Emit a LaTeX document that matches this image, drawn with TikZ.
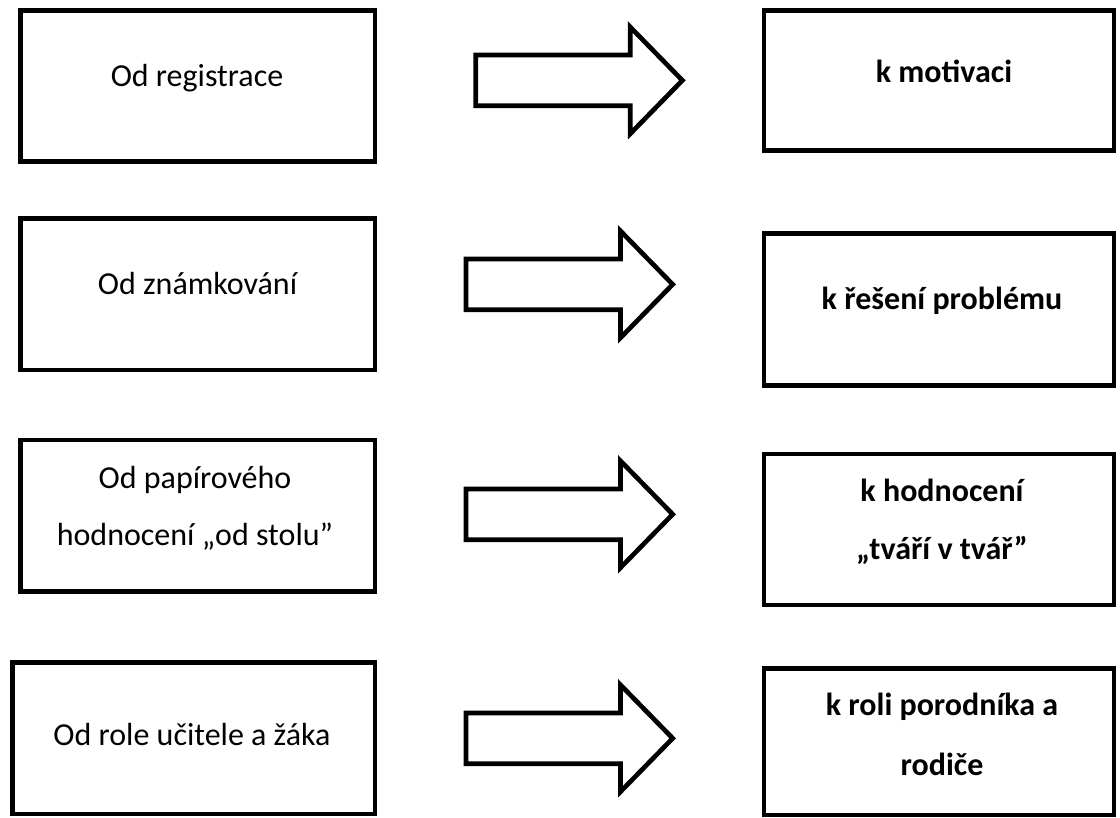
\documentclass[tikz,border=0pt]{standalone}
\usepackage{fontspec}
\setmainfont{Carlito}
\begin{document}
\begin{tikzpicture}[x=1pt,y=-1pt,
  panel/.style={draw=black, line width=4.7pt, inner sep=0pt, fill=white},
  lefttext/.style={anchor=base, inner sep=0pt, font=\fontsize{32}{38}\selectfont},
  righttext/.style={anchor=base, inner sep=0pt, font=\fontsize{32}{38}\selectfont\bfseries},
  arrowline/.style={draw=black, line width=4.7pt, fill=white, line join=miter},
  pics/blockarrow/.style={code={
    \draw[arrowline] (0,-25.4) -- (154.5,-25.4) -- (154.5,-53.4) -- (206.7,0)
      -- (154.5,53.4) -- (154.5,25.4) -- (0,25.4) -- cycle;}}]
\useasboundingbox (0,0) rectangle (1120,818);

% left column: starting points
\node[panel, minimum width=354.7pt, minimum height=151.4pt] (L1) at (197.65,86) {};
\node[panel, minimum width=354.3pt, minimum height=151.7pt] (L2) at (197.85,294.15) {};
\node[panel, minimum width=354.3pt, minimum height=151.7pt] (L3) at (197.85,515.85) {};
\node[panel, minimum width=362.7pt, minimum height=151.5pt] (L4) at (193.65,738.25) {};

% right column: goals
\node[panel, minimum width=350pt, minimum height=140.3pt] (R1) at (939,80.65) {};
\node[panel, minimum width=350pt, minimum height=151.9pt] (R2) at (939,309.75) {};
\node[panel, minimum width=350pt, minimum height=151pt] (R3) at (939,529.5) {};
\node[panel, minimum width=350pt, minimum height=146.7pt] (R4) at (939,741.65) {};

% texts
\node[lefttext] (t1) at (197,87) {Od registrace};
\node[lefttext] (t2) at (197.5,295) {Od známkování};
\node[lefttext] (t3a) at (195,488) {Od papírového};
\node[lefttext] (t3b) at (195,545) {hodnocení „od stolu”};
\node[lefttext] (t4) at (192,745) {Od role učitele a žáka};

\node[righttext] (u1) at (944,82.5) {k motivaci};
\node[righttext] (u2) at (942,310) {k řešení problému};
\node[righttext] (u3a) at (942,501.7) {k hodnocení};
\node[righttext] (u3b) at (942,559) {„tváří v tvář”};
\node[righttext] (u4a) at (942,715) {k roli porodníka a};
\node[righttext] (u4b) at (942,775) {rodiče};

% block arrows between the columns
\pic (a1) at (475.7,80.4) {blockarrow};
\pic (a2) at (466,284.4) {blockarrow};
\pic (a3) at (466,514.3) {blockarrow};
\pic (a4) at (466,738.3) {blockarrow};
\end{tikzpicture}
\end{document}
